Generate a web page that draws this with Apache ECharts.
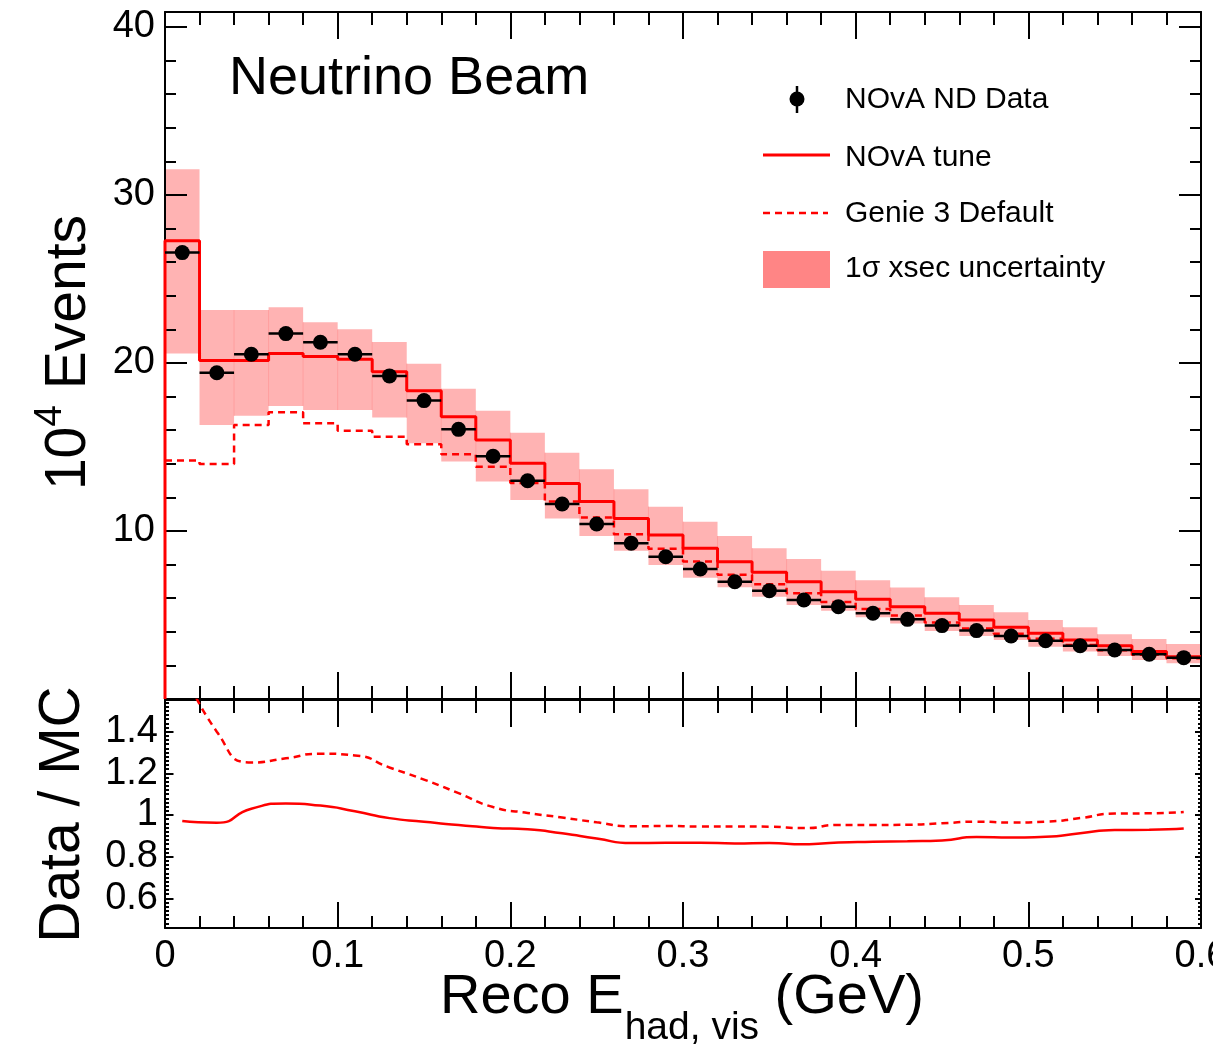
<!DOCTYPE html>
<html><head><meta charset="utf-8">
<script src="https://cdn.jsdelivr.net/npm/echarts@6.0.0/dist/echarts.min.js"></script>
<style>html,body{margin:0;padding:0;background:#fff;} #c{width:1213px;height:1046px;}</style>
</head><body><div id="c"></div>
<script>
// ---------------- data ----------------
const binCenters = [0.01,0.03,0.05,0.07,0.09,0.11,0.13,0.15,0.17,0.19,0.21,0.23,0.25,0.27,0.29,0.31,0.33,0.35,0.37,0.39,0.41,0.43,0.45,0.47,0.49,0.51,0.53,0.55,0.57,0.59];
const binWidth = 0.02;
const dataEvents  = [26.57,19.42,20.52,21.75,21.23,20.52,19.23,17.76,16.05,14.45,12.99,11.61,10.42,9.27,8.47,7.74,6.98,6.45,5.89,5.49,5.10,4.74,4.37,4.07,3.75,3.47,3.17,2.92,2.66,2.46];
const tuneEvents  = [27.28,20.14,20.14,20.57,20.38,20.22,19.48,18.35,16.80,15.42,14.03,12.82,11.75,10.75,9.76,8.97,8.17,7.54,6.98,6.39,5.93,5.49,5.10,4.70,4.27,3.91,3.51,3.17,2.82,2.52];
const genieEvents = [14.19,13.99,16.31,17.06,16.41,15.97,15.61,15.16,14.56,13.83,12.86,11.75,10.80,9.80,8.94,8.19,7.39,6.83,6.29,5.77,5.36,4.97,4.55,4.20,3.89,3.58,3.22,2.90,2.64,2.43];
const bandHigh    = [31.53,23.15,23.15,23.31,22.42,22.00,21.25,19.96,18.47,17.16,15.85,14.66,13.67,12.48,11.45,10.55,9.70,8.97,8.33,7.64,7.07,6.63,6.05,5.60,5.16,4.70,4.27,3.85,3.57,3.27];
const bandLow     = [20.57,16.31,16.86,17.44,17.20,17.20,16.75,15.22,14.13,12.94,11.85,10.75,9.70,8.83,7.98,7.22,6.65,6.09,5.60,5.26,4.86,4.50,4.05,3.75,3.51,3.11,2.82,2.56,2.32,2.13];
const ratioTune   = [0.971,0.963,1.030,1.055,1.045,1.018,0.985,0.968,0.952,0.938,0.931,0.912,0.887,0.865,0.867,0.867,0.863,0.866,0.859,0.868,0.871,0.874,0.878,0.894,0.892,0.895,0.912,0.928,0.929,0.935];
const ratioGenie  = [1.72,1.40,1.252,1.272,1.294,1.286,1.228,1.170,1.105,1.038,1.010,0.988,0.965,0.946,0.947,0.945,0.945,0.944,0.937,0.952,0.952,0.953,0.960,0.968,0.964,0.968,0.985,1.007,1.008,1.014];
const topYLabels = [10,20,30,40];
const ratioYLabels = [0.6,0.8,1,1.2,1.4];
const legendNames = ['NOvA ND Data','NOvA tune','Genie 3 Default','1\u03c3 xsec uncertainty'];

// ---------------- helpers ----------------
const FONT = '"Liberation Sans", Arial, Helvetica, sans-serif';
const RED = '#ff0000';
const BAND = '#ffb3b3';
const r4 = v => Math.round(v * 10000) / 10000;
const lo = i => r4(binCenters[i] - binWidth / 2);
const hi = i => r4(binCenters[i] + binWidth / 2);

function stepPoints(vals, fromZero) {
  const pts = fromZero ? [[0, 0]] : [];
  vals.forEach((v, i) => { pts.push([lo(i), v], [hi(i), v]); });
  return pts;
}
const topMinor = [];
for (let v = 2; v < 40.5; v += 2) if (v % 10 !== 0) topMinor.push(v);
const botMinor = [];
for (let k = 46; k <= 154; k += 2) if (k % 20 !== 0) botMinor.push(k / 100);

const TOPMAX = 40.89, BOTMIN = 0.4575, BOTMAX = 1.552;
const blk = { color: '#000', width: 2 };

function xAxis(grid, pos, major, minor, labels) {
  return {
    type: 'value', gridIndex: grid, position: pos, min: 0, max: 0.6, interval: 0.1, z: 3,
    axisLine: { show: true, onZero: false, lineStyle: blk },
    axisTick: { show: true, inside: true, length: major, lineStyle: blk },
    minorTick: { show: true, splitNumber: 5, length: minor, lineStyle: blk },
    axisLabel: labels ? { show: true, fontSize: 38, fontFamily: FONT, color: '#000', margin: 10 } : { show: false },
    splitLine: { show: false }, minorSplitLine: { show: false }
  };
}
function yAxis(grid, pos, min, max, ticks, len, line, labels, margin) {
  return {
    type: 'value', gridIndex: grid, position: pos, min: min, max: max, z: 3,
    axisLine: { show: line, onZero: false, lineStyle: blk },
    axisTick: { show: true, inside: true, length: len, customValues: ticks, lineStyle: blk },
    axisLabel: labels ? { show: true, customValues: labels, fontSize: 38, fontFamily: FONT, color: '#000', margin: margin } : { show: false },
    splitLine: { show: false }
  };
}

// ---------------- chart ----------------
const chart = echarts.init(document.getElementById('c'), null, { renderer: 'canvas' });

const ctx = document.createElement('canvas').getContext('2d');
function tw(str, size) { ctx.font = size + 'px ' + FONT; return ctx.measureText(str).width; }

// y title pieces
const yS = 57, ySup = 39;
const w10 = tw('10', yS), w4 = tw('4', ySup), wEv = tw(' Events', yS);
const yStart = -(w10 + w4 + wEv) / 2;
// x title pieces
const xS = 56, xSub = 39;
const wReco = tw('Reco E', xS), wSub = tw('had, vis', xSub);
const xT0 = 440;

const txt = (x, y, text, size, align, extra) => Object.assign({
  type: 'text', x: x, y: y, z: 10,
  style: { text: text, font: size + 'px ' + FONT, fill: '#000', textAlign: align || 'left', textVerticalAlign: 'middle' }
}, extra || {});

const option = {
  animation: false,
  backgroundColor: '#fff',
  grid: [
    { left: 165, top: 12, width: 1036, height: 687, outerBoundsMode: 'none', containLabel: false },
    { left: 165, top: 700, width: 1036, height: 228, outerBoundsMode: 'none', containLabel: false }
  ],
  xAxis: [
    xAxis(0, 'bottom', 27, 13, false),
    xAxis(0, 'top', 27, 13, false),
    xAxis(1, 'bottom', 26, 12, true),
    xAxis(1, 'top', 27, 13, false)
  ],
  yAxis: [
    yAxis(0, 'left', 0, TOPMAX, topYLabels, 22, true, topYLabels, 10),
    yAxis(0, 'left', 0, TOPMAX, topMinor, 11, false, null),
    yAxis(0, 'right', 0, TOPMAX, topYLabels, 22, true, null),
    yAxis(0, 'right', 0, TOPMAX, topMinor, 11, false, null),
    yAxis(1, 'left', BOTMIN, BOTMAX, ratioYLabels, 8.5, true, ratioYLabels, 7),
    yAxis(1, 'left', BOTMIN, BOTMAX, botMinor, 4, false, null),
    yAxis(1, 'right', BOTMIN, BOTMAX, ratioYLabels, 6, true, null),
    yAxis(1, 'right', BOTMIN, BOTMAX, botMinor, 3, false, null)
  ],
  series: [
    { // 1 sigma band
      type: 'custom', name: legendNames[3], xAxisIndex: 0, yAxisIndex: 0, z: 1, clip: true,
      encode: { x: [0, 1], y: [2, 3] },
      data: binCenters.map((c, i) => [lo(i), hi(i), bandLow[i], bandHigh[i]]),
      renderItem: (params, api) => {
        const i = params.dataIndex;
        const p1 = api.coord([api.value(0), api.value(3)]);
        const p2 = api.coord([api.value(1), api.value(2)]);
        const children = [{ type: 'rect', shape: { x: p1[0], y: p1[1], width: p2[0] - p1[0], height: p2[1] - p1[1] }, style: { fill: BAND } }];
        if (i > 0) {
          const t = Math.min(bandHigh[i], bandHigh[i - 1]);
          const b = Math.max(bandLow[i], bandLow[i - 1]);
          if (t > b) {
            const a1 = api.coord([api.value(0), t]);
            const a2 = api.coord([api.value(0), b]);
            children.push({ type: 'line', shape: { x1: a1[0], y1: a1[1], x2: a2[0], y2: a2[1] }, style: { stroke: '#ff9c9c', lineWidth: 1 } });
          }
        }
        return { type: 'group', children: children };
      }
    },
    { // Genie 3 default
      type: 'line', name: legendNames[2], xAxisIndex: 0, yAxisIndex: 0, z: 2,
      data: stepPoints(genieEvents, false), symbol: 'none',
      lineStyle: { color: RED, width: 2.5, type: [7, 5] }
    },
    { // NOvA tune
      type: 'line', name: legendNames[1], xAxisIndex: 0, yAxisIndex: 0, z: 4,
      data: stepPoints(tuneEvents, true), symbol: 'none',
      lineStyle: { color: RED, width: 3 }
    },
    { // data x error bars
      type: 'custom', xAxisIndex: 0, yAxisIndex: 0, z: 5,
      encode: { x: [0, 1], y: 2 },
      data: binCenters.map((c, i) => [lo(i), hi(i), dataEvents[i]]),
      renderItem: (params, api) => {
        const a = api.coord([api.value(0), api.value(2)]);
        const b = api.coord([api.value(1), api.value(2)]);
        return { type: 'line', shape: { x1: a[0], y1: a[1], x2: b[0], y2: b[1] }, style: { stroke: '#000', lineWidth: 2.5 } };
      }
    },
    { // data points
      type: 'scatter', name: legendNames[0], xAxisIndex: 0, yAxisIndex: 0, z: 6,
      data: binCenters.map((c, i) => [c, dataEvents[i]]),
      symbol: 'circle', symbolSize: 15, itemStyle: { color: '#000', opacity: 1 }
    },
    { // ratio: data / tune
      type: 'line', xAxisIndex: 2, yAxisIndex: 4, z: 4, clip: true,
      data: binCenters.map((c, i) => [c, ratioTune[i]]), smooth: 0.6, symbol: 'none',
      lineStyle: { color: RED, width: 2.5 }
    },
    { // ratio: data / genie
      type: 'line', xAxisIndex: 2, yAxisIndex: 4, z: 4, clip: true,
      data: binCenters.map((c, i) => [c, ratioGenie[i]]), smooth: 0.6, symbol: 'none',
      lineStyle: { color: RED, width: 2.5, type: [7, 5] }
    }
  ],
  graphic: [
    txt(229, 79, 'Neutrino Beam', 54),
    // y title top
    { type: 'group', x: 69, y: 352.5, rotation: Math.PI / 2, children: [
      txt(yStart, 0, '10', yS),
      txt(yStart + w10, -19, '4', ySup),
      txt(yStart + w10 + w4, 0, ' Events', yS)
    ]},
    // y title bottom
    txt(63, 814.5, 'Data / MC', 57, 'center', { rotation: Math.PI / 2 }),
    // x title
    txt(xT0, 998, 'Reco E', xS),
    txt(xT0 + wReco + 1, 1028, 'had, vis', xSub),
    txt(xT0 + wReco + 1 + wSub, 998, ' (GeV)', xS),
    // legend
    { type: 'line', z: 10, shape: { x1: 797, y1: 86, x2: 797, y2: 113 }, style: { stroke: '#000', lineWidth: 2.5 } },
    { type: 'circle', z: 10, shape: { cx: 797, cy: 99, r: 7.5 }, style: { fill: '#000' } },
    txt(845, 100, legendNames[0], 30),
    { type: 'line', z: 10, shape: { x1: 763, y1: 155, x2: 830, y2: 155 }, style: { stroke: RED, lineWidth: 3 } },
    txt(845, 158, legendNames[1], 30),
    { type: 'line', z: 10, shape: { x1: 763, y1: 213, x2: 828, y2: 213 }, style: { stroke: RED, lineWidth: 2.5, lineDash: [7, 5] } },
    txt(845, 214, legendNames[2], 30),
    { type: 'rect', z: 10, shape: { x: 763, y: 251, width: 67, height: 37 }, style: { fill: '#ff8585' } },
    txt(845, 269, legendNames[3], 30)
  ]
};
chart.setOption(option);
</script></body></html>
